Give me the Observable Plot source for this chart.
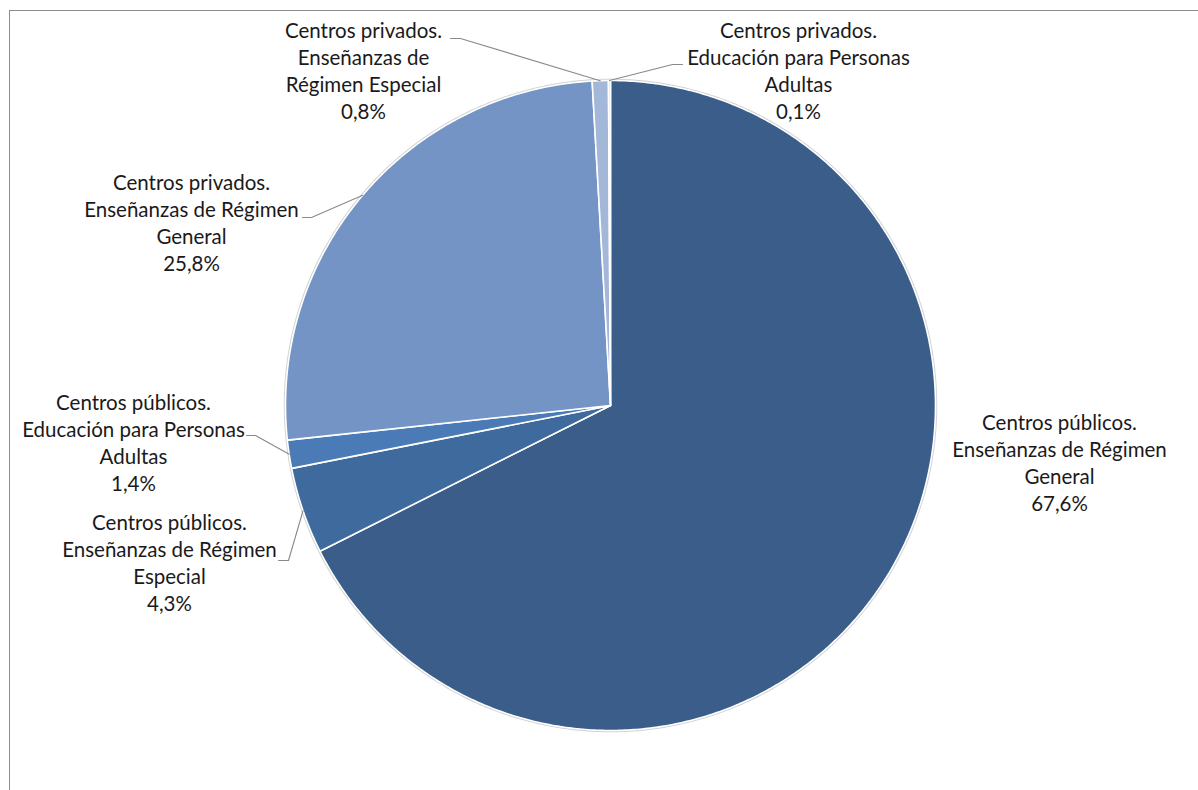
<!DOCTYPE html>
<html>
<head>
<meta charset="utf-8">
<script src="https://cdn.jsdelivr.net/npm/d3@7"></script>
<script src="https://cdn.jsdelivr.net/npm/@observablehq/plot@0.6"></script>
<style>
  html, body { margin: 0; padding: 0; background: #fff; }
  #wrap { position: relative; width: 1198px; height: 790px; overflow: hidden; }
  #frame { position: absolute; left: 9px; top: 10px; width: 1300px; height: 900px;
           border-left: 1.5px solid #8c8c8c; border-top: 1.5px solid #8c8c8c; }
  #chart { position: absolute; left: 0; top: 0; }
</style>
</head>
<body>
<div id="wrap"><div id="frame"></div><div id="chart"></div></div>
<script>
// ---- data ----
const categories = [
  "Centros públicos. Enseñanzas de Régimen General",
  "Centros públicos. Enseñanzas de Régimen Especial",
  "Centros públicos. Educación para Personas Adultas",
  "Centros privados. Enseñanzas de Régimen General",
  "Centros privados. Enseñanzas de Régimen Especial",
  "Centros privados. Educación para Personas Adultas"
];
const values = [67.6, 4.3, 1.4, 25.8, 0.8, 0.1];
const labelTexts = [
  "Centros públicos.\nEnseñanzas de Régimen\nGeneral\n67,6%",
  "Centros públicos.\nEnseñanzas de Régimen\nEspecial\n4,3%",
  "Centros públicos.\nEducación para Personas\nAdultas\n1,4%",
  "Centros privados.\nEnseñanzas de Régimen\nGeneral\n25,8%",
  "Centros privados.\nEnseñanzas de\nRégimen Especial\n0,8%",
  "Centros privados.\nEducación para Personas\nAdultas\n0,1%"
];

// ---- style / layout ----
const colors = ["#3a5d8a", "#3f6a9e", "#4a7bb7", "#7394c4", "#a3b7d9", "#c9d6ea"];
const CX = 610, CY = 405, R = 325;           // pie centre and radius in pixels
const px = v => (v - CX) / R, py = v => (v - CY) / R;   // pixel -> unit coords
// label block centres (pixels) and leader-line start / elbow (pixels); null = no leader
const labelPos = [[1059, 461], [169, 561], [133, 441], [191, 221.5], [363, 69], [798, 69]];
const leaderPts = [
  null,
  [[278, 560], [288, 560]],
  [[246, 435], [255, 435]],
  [[302, 217], [311, 217]],
  [[450, 38], [460, 38]],
  [[682, 64], [672, 64]]
];

// ---- geometry from values ----
const total = d3.sum(values);
let cum = 0;
const slices = categories.map((c, i) => {
  const a0 = cum / total * 2 * Math.PI;
  cum += values[i];
  const a1 = cum / total * 2 * Math.PI;
  return {c, i, a0, a1, mid: (a0 + a1) / 2};
});
const pt = a => ({x: Math.sin(a), y: -Math.cos(a)});   // clockwise from 12 o'clock, y down

const polys = [];
for (const s of slices) {
  const n = Math.max(2, Math.ceil((s.a1 - s.a0) / (Math.PI / 360)));
  polys.push({c: s.c, x: 0, y: 0});
  for (let k = 0; k <= n; k++) {
    const p = pt(s.a0 + (s.a1 - s.a0) * k / n);
    polys.push({c: s.c, ...p});
  }
  polys.push({c: s.c, x: 0, y: 0});
}
const ring = d3.range(0, 721).map(k => pt(k / 720 * 2 * Math.PI));

const leaders = [];
slices.forEach((s, i) => {
  if (!leaderPts[i]) return;
  const [a, b] = leaderPts[i];
  leaders.push({c: s.c, x: px(a[0]), y: py(a[1])});
  leaders.push({c: s.c, x: px(b[0]), y: py(b[1])});
  leaders.push({c: s.c, ...pt(s.mid)});
});

const labels = slices.map((s, i) => ({
  c: s.c, text: labelTexts[i], x: px(labelPos[i][0]), y: py(labelPos[i][1])
}));

const chart = Plot.plot({
  width: 1198,
  height: 790,
  margin: 0,
  style: {fontFamily: "Lato, 'Open Sans', sans-serif", background: "transparent", overflow: "visible"},
  x: {domain: [-1, 1], range: [CX - R, CX + R], axis: null},
  y: {domain: [-1, 1], range: [CY - R, CY + R], axis: null},
  color: {domain: categories, range: colors},
  marks: [
    Plot.line(ring, {x: "x", y: "y", stroke: "#d2d2d2", strokeWidth: 3.5, fill: "none"}),
    Plot.line(polys, {x: "x", y: "y", z: "c", fill: "c", stroke: "white", strokeWidth: 1.6, strokeLinejoin: "round"}),
    Plot.line(leaders, {x: "x", y: "y", z: "c", stroke: "#8a8a8a", strokeWidth: 1.1}),
    Plot.text(labels, {x: "x", y: "y", text: "text", fontSize: 20.5, lineHeight: 1.32,
      lineAnchor: "middle", textAnchor: "middle", fill: "#1a1a1a"})
  ]
});
document.getElementById("chart").appendChild(chart);
</script>
</body>
</html>
